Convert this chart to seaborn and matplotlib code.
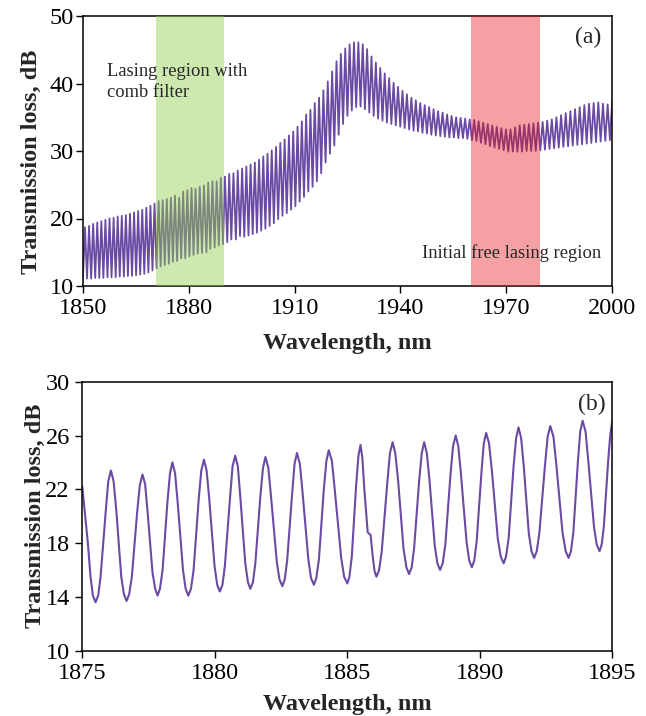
import numpy as np
import pandas as pd
import matplotlib
matplotlib.use("Agg")
import matplotlib.pyplot as plt
import seaborn as sns

# ---------------- data: panel (a) comb transmission, extrema
A_TROUGH_WL = [
    1849.98, 1851.14, 1852.30, 1853.46, 1854.62, 1855.78, 1856.94, 1858.10,
    1859.26, 1860.42, 1861.58, 1862.74, 1863.90, 1865.06, 1866.22, 1867.38,
    1868.54, 1869.70, 1870.86, 1872.02, 1873.18, 1874.34, 1875.50, 1876.67,
    1877.84, 1879.00, 1880.19, 1881.34, 1882.55, 1883.74, 1885.00, 1886.10,
    1887.33, 1888.50, 1889.70, 1890.90, 1892.05, 1893.35, 1894.52, 1895.72,
    1896.92, 1898.12, 1899.32, 1900.52, 1901.72, 1902.92, 1904.12, 1905.34,
    1906.56, 1907.78, 1909.00, 1910.22, 1911.44, 1912.66, 1913.88, 1915.10,
    1916.32, 1917.54, 1918.78, 1920.02, 1921.26, 1922.50, 1923.74, 1924.98,
    1926.22, 1927.46, 1928.70, 1929.94, 1931.18, 1932.42, 1933.66, 1934.92,
    1936.18, 1937.44, 1938.70, 1939.96, 1941.22, 1942.48, 1943.74, 1945.00,
    1946.26, 1947.52, 1948.78, 1950.04, 1951.32, 1952.60, 1953.88, 1955.16,
    1956.44, 1957.72, 1959.00, 1960.28, 1961.56, 1962.84, 1964.12, 1965.40,
    1966.68, 1967.98, 1969.28, 1970.58, 1971.88, 1973.18, 1974.48, 1975.78,
    1977.08, 1978.38, 1979.68, 1980.98, 1982.28, 1983.58, 1984.90, 1986.22,
    1987.54, 1988.86, 1990.18, 1991.50, 1992.82, 1994.14, 1995.46, 1996.78,
    1998.10, 1999.42, 2000.74,
]
A_TROUGH_DB = [
    11.2, 11.1, 11.1, 11.2, 11.2, 11.2, 11.3, 11.3,
    11.3, 11.4, 11.4, 11.5, 11.5, 11.6, 11.7, 11.8,
    12.0, 12.3, 12.6, 12.9, 13.1, 13.3, 13.6, 13.7,
    14.1, 14.1, 14.4, 14.6, 14.8, 14.9, 15.0, 15.5,
    15.7, 16.0, 16.2, 16.5, 16.9, 16.9, 17.4, 17.3,
    17.5, 17.7, 17.9, 18.2, 18.5, 18.9, 19.3, 19.9,
    20.4, 20.8, 21.3, 21.8, 22.5, 23.2, 24.0, 24.7,
    25.5, 26.7, 28.3, 29.6, 30.8, 32.4, 34.0, 35.2,
    36.0, 36.5, 36.6, 36.2, 35.7, 35.2, 34.8, 34.5,
    34.2, 34.0, 33.8, 33.6, 33.4, 33.2, 33.0, 32.9,
    32.7, 32.6, 32.4, 32.3, 32.2, 32.1, 32.0, 32.0,
    31.9, 31.9, 31.8, 31.6, 31.5, 31.2, 31.0, 30.7,
    30.5, 30.3, 30.1, 29.9, 29.9, 29.9, 29.9, 30.0,
    30.0, 30.0, 30.1, 30.2, 30.3, 30.4, 30.5, 30.6,
    30.7, 30.8, 30.9, 31.0, 31.1, 31.2, 31.3, 31.4,
    31.5, 31.6, 31.6,
]
A_PEAK_WL = [
    1850.56, 1851.72, 1852.88, 1854.04, 1855.20, 1856.36, 1857.52, 1858.68,
    1859.84, 1861.00, 1862.16, 1863.32, 1864.48, 1865.64, 1866.80, 1867.96,
    1869.12, 1870.28, 1871.44, 1872.60, 1873.76, 1874.92, 1876.08, 1877.27,
    1878.40, 1879.59, 1880.77, 1881.91, 1883.10, 1884.30, 1885.50, 1886.71,
    1887.90, 1889.09, 1890.24, 1891.46, 1892.66, 1893.88, 1895.12, 1896.32,
    1897.52, 1898.72, 1899.92, 1901.12, 1902.32, 1903.52, 1904.73, 1905.95,
    1907.17, 1908.39, 1909.61, 1910.83, 1912.05, 1913.27, 1914.49, 1915.71,
    1916.93, 1918.16, 1919.40, 1920.64, 1921.88, 1923.12, 1924.36, 1925.60,
    1926.84, 1928.08, 1929.32, 1930.56, 1931.80, 1933.04, 1934.29, 1935.55,
    1936.81, 1938.07, 1939.33, 1940.59, 1941.85, 1943.11, 1944.37, 1945.63,
    1946.89, 1948.15, 1949.41, 1950.68, 1951.96, 1953.24, 1954.52, 1955.80,
    1957.08, 1958.36, 1959.64, 1960.92, 1962.20, 1963.48, 1964.76, 1966.04,
    1967.33, 1968.63, 1969.93, 1971.23, 1972.53, 1973.83, 1975.13, 1976.43,
    1977.73, 1979.03, 1980.33, 1981.63, 1982.93, 1984.24, 1985.56, 1986.88,
    1988.20, 1989.52, 1990.84, 1992.16, 1993.48, 1994.80, 1996.12, 1997.44,
    1998.76, 2000.08,
]
A_PEAK_DB = [
    18.7, 18.9, 19.2, 19.4, 19.6, 19.8, 20.0, 20.1,
    20.3, 20.4, 20.5, 20.7, 20.9, 21.1, 21.3, 21.6,
    21.9, 22.2, 22.6, 22.7, 22.9, 23.1, 23.4, 23.1,
    24.0, 24.2, 24.5, 24.4, 24.7, 24.9, 25.3, 25.5,
    25.5, 26.0, 26.2, 26.6, 26.7, 27.1, 27.4, 27.7,
    28.0, 28.3, 28.7, 29.2, 29.6, 30.1, 30.6, 31.2,
    31.7, 32.3, 32.9, 33.6, 34.4, 35.4, 36.1, 37.1,
    37.9, 39.0, 40.3, 41.8, 43.3, 44.4, 45.2, 45.8,
    46.1, 46.1, 45.8, 45.1, 44.0, 43.1, 42.3, 41.5,
    40.8, 40.1, 39.5, 38.9, 38.4, 37.9, 37.5, 37.1,
    36.8, 36.5, 36.2, 35.9, 35.7, 35.4, 35.2, 35.0,
    34.9, 34.8, 34.7, 34.6, 34.4, 34.2, 34.0, 33.8,
    33.6, 33.4, 33.2, 33.2, 33.5, 33.8, 33.9, 34.0,
    34.1, 34.2, 34.3, 34.5, 34.7, 35.0, 35.3, 35.6,
    35.9, 36.2, 36.5, 36.8, 37.0, 37.1, 37.2, 37.0,
    36.9, 37.7,
]

# ---------------- data: panel (b) zoomed comb
# each row: trough, 4 points up, peak, 4 points down
B_WL = [
    1875.00, 1875.21, 1875.31, 1875.40,
    1875.50, 1875.60, 1875.69, 1875.89, 1875.98, 1876.08, 1876.18, 1876.28, 1876.47, 1876.57,
    1876.67, 1876.77, 1876.87, 1877.07, 1877.17, 1877.27, 1877.37, 1877.46, 1877.65, 1877.75,
    1877.84, 1877.93, 1878.03, 1878.21, 1878.31, 1878.40, 1878.50, 1878.60, 1878.80, 1878.90,
    1879.00, 1879.10, 1879.20, 1879.39, 1879.49, 1879.59, 1879.69, 1879.79, 1879.99, 1880.09,
    1880.19, 1880.29, 1880.38, 1880.58, 1880.67, 1880.77, 1880.87, 1880.96, 1881.15, 1881.25,
    1881.34, 1881.44, 1881.53, 1881.72, 1881.82, 1881.91, 1882.02, 1882.12, 1882.34, 1882.44,
    1882.55, 1882.64, 1882.73, 1882.92, 1883.01, 1883.10, 1883.21, 1883.31, 1883.53, 1883.63,
    1883.74, 1883.83, 1883.93, 1884.11, 1884.21, 1884.30, 1884.42, 1884.53, 1884.77, 1884.88,
    1885.00, 1885.08, 1885.17, 1885.33, 1885.42, 1885.50, 1885.57, 1885.65, 1885.77, 1885.88, 1885.96, 1886.03,
    1886.10, 1886.20, 1886.30, 1886.51, 1886.61, 1886.71, 1886.81, 1886.92, 1887.12, 1887.23,
    1887.33, 1887.43, 1887.52, 1887.71, 1887.81, 1887.90, 1888.00, 1888.10, 1888.30, 1888.40,
    1888.50, 1888.60, 1888.70, 1888.89, 1888.99, 1889.09, 1889.19, 1889.29, 1889.50, 1889.60,
    1889.70, 1889.79, 1889.88, 1890.06, 1890.15, 1890.24, 1890.35, 1890.46, 1890.68, 1890.79,
    1890.90, 1890.99, 1891.09, 1891.27, 1891.37, 1891.46, 1891.56, 1891.66, 1891.85, 1891.95,
    1892.05, 1892.15, 1892.25, 1892.46, 1892.56, 1892.66, 1892.78, 1892.89, 1893.12, 1893.24,
    1893.35, 1893.44, 1893.53, 1893.70, 1893.79, 1893.88, 1893.99, 1894.09, 1894.31, 1894.41,
    1894.52, 1894.60, 1894.68, 1894.84, 1894.92, 1895.00,
]
B_DB = [
    22.2, 18.0, 15.5, 14.1,
    13.6, 14.1, 15.5, 20.5, 22.6, 23.4, 22.6, 20.5, 15.5, 14.2,
    13.7, 14.2, 15.5, 20.3, 22.3, 23.1, 22.4, 20.4, 15.8, 14.6,
    14.1, 14.6, 16.0, 21.0, 23.2, 24.0, 23.2, 21.0, 16.0, 14.6,
    14.1, 14.6, 16.0, 21.2, 23.4, 24.2, 23.4, 21.3, 16.3, 14.9,
    14.4, 14.9, 16.3, 21.5, 23.7, 24.5, 23.7, 21.5, 16.5, 15.1,
    14.6, 15.1, 16.5, 21.5, 23.6, 24.4, 23.6, 21.5, 16.6, 15.3,
    14.8, 15.3, 16.7, 21.7, 23.9, 24.7, 23.9, 21.8, 16.8, 15.4,
    14.9, 15.4, 16.8, 21.9, 24.1, 24.9, 24.1, 21.9, 16.9, 15.5,
    15.0, 15.5, 17.0, 22.2, 24.5, 25.3, 24.3, 21.8, 18.8, 18.6, 17.0, 15.9,
    15.5, 16.0, 17.4, 22.5, 24.7, 25.5, 24.7, 22.6, 17.6, 16.2,
    15.7, 16.2, 17.6, 22.6, 24.7, 25.5, 24.7, 22.7, 17.8, 16.5,
    16.0, 16.5, 17.9, 23.0, 25.2, 26.0, 25.2, 23.1, 18.1, 16.7,
    16.2, 16.7, 18.1, 23.2, 25.4, 26.2, 25.4, 23.3, 18.3, 17.0,
    16.5, 17.0, 18.4, 23.6, 25.8, 26.6, 25.8, 23.7, 18.7, 17.4,
    16.9, 17.4, 18.8, 23.8, 25.9, 26.7, 25.9, 23.8, 18.8, 17.4,
    16.9, 17.4, 18.8, 24.0, 26.3, 27.1, 26.3, 24.2, 19.2, 17.9,
    17.4, 17.9, 19.2, 24.0, 26.0, 27.1,
]

A_XTICKS = [1850, 1880, 1910, 1940, 1970, 2000]
A_YTICKS = [10, 20, 30, 40, 50]
B_XTICKS = [1875, 1880, 1885, 1890, 1895]
B_YTICKS = [10, 14, 18, 22, 26, 30]

GREEN_BAND = (1870.7, 1890.1)
RED_BAND = (1960.1, 1979.5)

# ---------------- style
sns.set_theme(style="white")
plt.rcParams['font.family'] = ['Liberation Serif', 'DejaVu Serif']

LINE = "#6B4AA3"
TICK_FS = 17.5
LABEL_FS = 17.5

fig = plt.figure(figsize=(6.46, 7.16), dpi=100)
ax1 = fig.add_axes([83 / 646, 1 - 286 / 716, 529 / 646, 270 / 716])
ax2 = fig.add_axes([82.3 / 646, 1 - 650.7 / 716, 530 / 646, 269 / 716])

df_a = pd.DataFrame({"wl": A_TROUGH_WL + A_PEAK_WL,
                     "db": A_TROUGH_DB + A_PEAK_DB}).sort_values("wl")
df_b = pd.DataFrame({"wl": B_WL, "db": B_DB})

sns.lineplot(data=df_a, x="wl", y="db", ax=ax1, color=LINE, lw=1.3,
             estimator=None, zorder=2)
sns.lineplot(data=df_b, x="wl", y="db", ax=ax2, color=LINE, lw=1.5,
             estimator=None, zorder=2, solid_joinstyle="round")

ax1.axvspan(*GREEN_BAND, color="#92D050", alpha=0.45, lw=0, zorder=3)
ax1.axvspan(*RED_BAND, color="#E6141A", alpha=0.40, lw=0, zorder=3)

ax1.text(1856.8, 43.0, "Lasing region with\ncomb filter", ha="left", va="top",
         fontsize=13.3, linespacing=1.28, zorder=4)
ax1.text(1996.8, 14.9, "Initial free lasing region", ha="right", va="center",
         fontsize=13.3, zorder=4)
ax1.text(1997.0, 46.8, "(a)", ha="right", va="center", fontsize=17, zorder=4)
ax2.text(1894.75, 28.3, "(b)", ha="right", va="center", fontsize=17, zorder=4)

for ax, xt, yt, xl, yl, ypad in [
    (ax1, A_XTICKS, A_YTICKS, (1850, 2000), (10, 50), 1.5),
    (ax2, B_XTICKS, B_YTICKS, (1875, 1895), (10, 30), 4.0),
]:
    ax.set_xlim(*xl)
    ax.set_ylim(*yl)
    ax.set_xticks(xt)
    ax.set_yticks(yt)
    ax.tick_params(axis="both", which="major", direction="out", length=5,
                   width=1.0, colors="black", labelsize=TICK_FS,
                   bottom=True, left=True, top=False, right=False)
    ax.tick_params(axis="x", pad=4)
    ax.tick_params(axis="y", pad=ypad)
    for s in ax.spines.values():
        s.set_visible(True)
        s.set_color("black")
        s.set_linewidth(1.1)
    ax.set_xlabel("Wavelength, nm", fontsize=LABEL_FS, fontweight="bold")
    ax.set_ylabel("Transmission loss, dB", fontsize=LABEL_FS, fontweight="bold")
    ax.grid(False)

ax1.xaxis.set_label_coords(0.5, -0.175)
ax2.xaxis.set_label_coords(0.5, -0.16)
ax1.yaxis.set_label_coords(-0.078, 0.46)
ax2.yaxis.set_label_coords(-0.069, 0.5)

fig.savefig("out.png", dpi=100)
